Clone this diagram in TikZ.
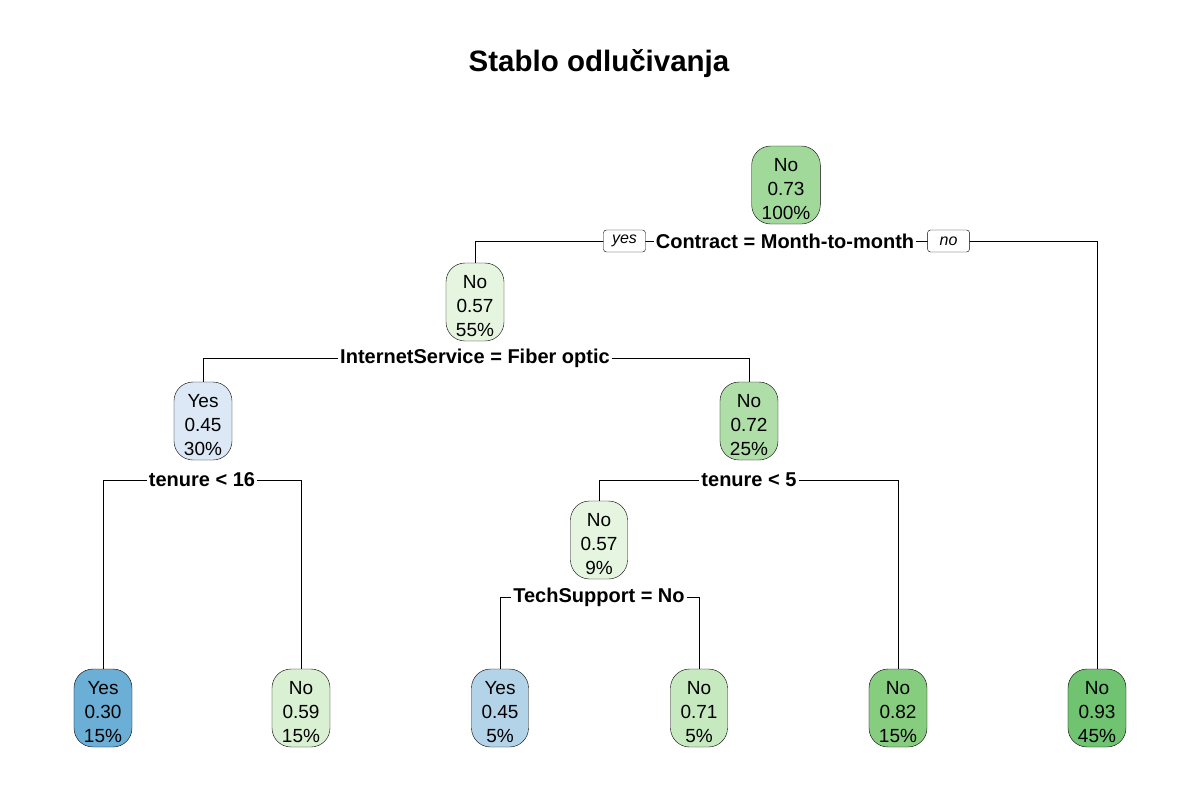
\documentclass[tikz,border=0pt]{standalone}
\usepackage{fontspec}
\setmainfont{Liberation Sans}
\usetikzlibrary{positioning,backgrounds}

\definecolor{gRoot}{HTML}{A1D99B}
\definecolor{gPale}{HTML}{E5F5E0}
\definecolor{gMid}{HTML}{AFDEA8}
\definecolor{gLeafA}{HTML}{D9F0D3}
\definecolor{gLeafB}{HTML}{C7E9C0}
\definecolor{gLeafC}{HTML}{87CD80}
\definecolor{gLeafD}{HTML}{70C370}
\definecolor{bPale}{HTML}{DCE8F6}
\definecolor{bMid}{HTML}{B3D3E8}
\definecolor{bDark}{HTML}{6BAED6}

\newcommand{\boxlines}[3]{\rule{0pt}{22pt}#1\\#2\\#3}

\begin{document}
\begin{tikzpicture}[x=1pt, y=-1pt]
        \tikzstyle{treeBox} = [draw=black, rounded corners=19pt, align=center,
            inner xsep=10pt, inner ysep=0pt, minimum height=78pt,
            font=\fontsize{19}{24}\selectfont]
        \tikzstyle{splitLabel} = [inner xsep=2pt, inner ysep=1pt,
            font=\fontsize{20}{24}\selectfont\bfseries]
        \tikzstyle{answerBox} = [draw=black, fill=white, rounded corners=3pt,
            minimum width=42pt, minimum height=22pt, inner sep=0pt,
            font=\fontsize{16}{18}\selectfont\itshape]
        \useasboundingbox (0,0) rectangle (1200,800);
        \node[font=\fontsize{29.5}{32}\selectfont\bfseries] (title) at (599,64) {Stablo odlučivanja};
        % inner nodes
        \node[treeBox, fill=gRoot] (n1) at (786,185) {\boxlines{No}{0.73}{100\%}};
        \node[treeBox, fill=gPale] (n2) at (475,302) {\boxlines{No}{0.57}{55\%}};
        \node[treeBox, fill=bPale] (n4) at (203,421) {\boxlines{Yes}{0.45}{30\%}};
        \node[treeBox, fill=gMid] (n5) at (749,421) {\boxlines{No}{0.72}{25\%}};
        \node[treeBox, fill=gPale] (n10) at (599,540) {\boxlines{No}{0.57}{9\%}};
        % leaves
        \node[treeBox, fill=bDark] (n8) at (103,708) {\boxlines{Yes}{0.30}{15\%}};
        \node[treeBox, fill=gLeafA] (n9) at (301,708) {\boxlines{No}{0.59}{15\%}};
        \node[treeBox, fill=bMid] (n20) at (500,708) {\boxlines{Yes}{0.45}{5\%}};
        \node[treeBox, fill=gLeafB] (n21) at (699,708) {\boxlines{No}{0.71}{5\%}};
        \node[treeBox, fill=gLeafC] (n11) at (898,708) {\boxlines{No}{0.82}{15\%}};
        \node[treeBox, fill=gLeafD] (n3) at (1097,708) {\boxlines{No}{0.93}{45\%}};
        % split labels
        \node[splitLabel] (s1) at (785,241) {Contract = Month-to-month};
        \node[splitLabel] (s2) at (475,358) {InternetService = Fiber optic};
        \node[splitLabel] (s4) at (202,480) {tenure < 16};
        \node[splitLabel] (s5) at (749,480) {tenure < 5};
        \node[splitLabel] (s10) at (599,597) {TechSupport = No};
        \node[answerBox, left=8pt of s1] (yes1) {yes};
        \node[answerBox, right=11pt of s1] (no1) {no};
        \begin{scope}[on background layer]
            \foreach \lft/\spl/\rgt in {n2/s1/n3, n4/s2/n5, n8/s4/n9,
                                       n10/s5/n11, n20/s10/n21}
                \draw[black, line width=0.8pt] (\lft.north) |- (\spl.west)
                    (\spl.east) -| (\rgt.north);
        \end{scope}
    \end{tikzpicture}
\end{document}
